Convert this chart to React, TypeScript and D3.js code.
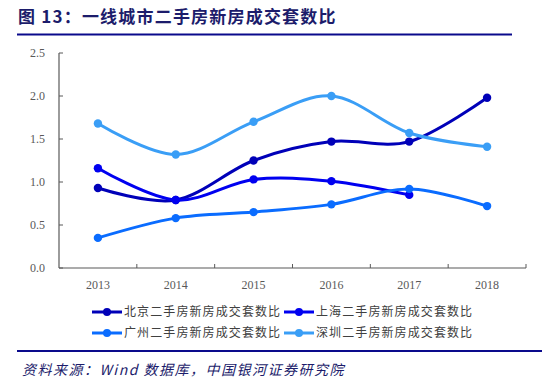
import React from "react";
import * as d3 from "d3";

const years = ["2013", "2014", "2015", "2016", "2017", "2018"];
const beijing = [0.93, 0.79, 1.25, 1.47, 1.47, 1.98];
const shanghai = [1.16, 0.79, 1.03, 1.01, 0.85];
const guangzhou = [0.35, 0.58, 0.65, 0.74, 0.92, 0.72];
const shenzhen = [1.68, 1.32, 1.70, 2.0, 1.57, 1.41];
const seriesNames = [
  "北京二手房新房成交套数比",
  "上海二手房新房成交套数比",
  "广州二手房新房成交套数比",
  "深圳二手房新房成交套数比",
];
const yTicks = [0, 0.5, 1.0, 1.5, 2.0, 2.5];
const titleNum = "图 13：";
const titleText = "一线城市二手房新房成交套数比";
const source = "资料来源：Wind 数据库，中国银河证券研究院";

const colors = ["#0000b8", "#0000f0", "#0a6cff", "#3a9ef6"];

export default function App() {
  const W = 554;
  const H = 383;
  const left = 59;
  const right = 526;
  const top = 53;
  const bottom = 268;
  const x = d3.scaleBand<string>().domain(years).range([left, right]);
  const y = d3.scaleLinear().domain([0, 2.5]).range([bottom, top]);
  const line = d3
    .line<number>()
    .x((_, i) => (x(years[i]) as number) + x.bandwidth() / 2)
    .y((d) => y(d))
    .curve(d3.curveCardinal.tension(0));
  const data = [beijing, shanghai, guangzhou, shenzhen];
  const axisColor = "#595959";
  const serif = "'Liberation Serif', 'Times New Roman', serif";
  const legendPos = [
    [92, 312],
    [284, 312],
    [92, 333],
    [284, 333],
  ];
  return (
    <svg width={W} height={H} style={{ position: "absolute", left: 0, top: 0 }}>
      <rect width={W} height={H} fill="#fff" />
      <text
        x={18}
        y={23}
        fontSize={17}
        fontWeight="bold"
        fill="#1c1c6b"
        fontFamily="'Noto Sans CJK SC', sans-serif"
        letterSpacing={1.2}
      >
        <tspan>{titleNum}</tspan>
        <tspan>{titleText}</tspan>
      </text>
      <line x1={17} x2={512} y1={34.5} y2={34.5} stroke="#0a0a8c" strokeWidth={2.2} />
      {/* y axis */}
      <line x1={left} x2={left} y1={top} y2={bottom} stroke={axisColor} strokeWidth={1.2} />
      {yTicks.map((t) => (
        <g key={t}>
          <line x1={left} x2={left + 4} y1={y(t)} y2={y(t)} stroke={axisColor} strokeWidth={1} />
          <text
            x={45}
            y={y(t)}
            dy="0.35em"
            textAnchor="end"
            fontSize={12}
            fill={axisColor}
            fontFamily={serif}
          >
            {t.toFixed(1)}
          </text>
        </g>
      ))}
      {/* x axis */}
      <line x1={left} x2={right} y1={bottom} y2={bottom} stroke={axisColor} strokeWidth={1.2} />
      {years.map((yr, i) => (
        <g key={yr}>
          <line
            x1={(x(yr) as number) + x.bandwidth()}
            x2={(x(yr) as number) + x.bandwidth()}
            y1={bottom}
            y2={bottom - 4}
            stroke={axisColor}
            strokeWidth={1}
          />
          <text
            x={(x(yr) as number) + x.bandwidth() / 2}
            y={289}
            textAnchor="middle"
            fontSize={12}
            fill={axisColor}
            fontFamily={serif}
          >
            {yr}
          </text>
        </g>
      ))}
      {data.map((s, k) => (
        <g key={k}>
          <path d={line(s) || ""} fill="none" stroke={colors[k]} strokeWidth={3} />
          {s.map((v, i) => (
            <circle
              key={i}
              cx={(x(years[i]) as number) + x.bandwidth() / 2}
              cy={y(v)}
              r={4.2}
              fill={colors[k]}
            />
          ))}
        </g>
      ))}
      {seriesNames.map((n, k) => (
        <g key={n} transform={`translate(${legendPos[k][0]},${legendPos[k][1]})`}>
          <line x1={0} x2={30} y1={0} y2={0} stroke={colors[k]} strokeWidth={3} />
          <circle cx={15} cy={0} r={4} fill={colors[k]} />
          <text
            x={32}
            y={0}
            dy="0.36em"
            fontSize={12}
            letterSpacing={1.1}
            fill="#404040"
            fontFamily="'Noto Sans CJK SC', serif"
          >
            {n}
          </text>
        </g>
      ))}
      <line x1={17} x2={542} y1={351} y2={351} stroke="#0a0a8c" strokeWidth={2.2} />
      <text
        x={22}
        y={375}
        fontSize={14}
        fontStyle="italic"
        letterSpacing={1.5}
        fill="#1c1c6b"
        fontFamily="'Noto Sans CJK SC', serif"
      >
        {source}
      </text>
    </svg>
  );
}
